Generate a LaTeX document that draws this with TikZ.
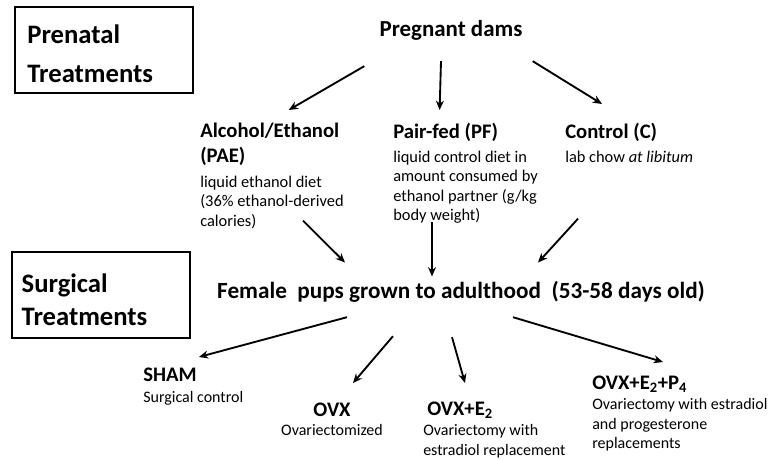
\documentclass[tikz,border=0pt]{standalone}
\usepackage{fontspec}
\setmainfont{Carlito}
\usetikzlibrary{positioning, arrows.meta, calc}

\begin{document}
\begin{tikzpicture}[
    x=0.75pt, y=-0.75pt,
    >={Stealth[length=7pt, width=6pt]},
    arr/.style    ={->, line width=1.4pt},
    sect/.style   ={draw, line width=1.3pt, align=left, text width=115pt, inner xsep=9pt, inner ysep=0pt, minimum height=64.5pt, font=\bfseries\fontsize{20}{29.25}\selectfont},
    head/.style   ={inner sep=0pt, font=\bfseries\fontsize{17.2}{20}\selectfont},
    grp/.style    ={inner sep=0pt, align=left, font=\bfseries\fontsize{15.5}{18.75}\selectfont},
    note/.style   ={inner sep=0pt, align=left, font=\fontsize{12.3}{14.6}\selectfont},
    op/.style     ={inner sep=0pt, align=left, font=\bfseries\fontsize{15.5}{18}\selectfont},
    opnote/.style ={inner sep=0pt, align=left, font=\fontsize{12}{14.6}\selectfont},
]
\useasboundingbox (0,0) rectangle (775,460);

% Section boxes
\node[sect] (pre) at (104,50) {\rule{0pt}{20pt}Prenatal\\Treatments};
\node[sect, inner xsep=7pt, text width=119pt, font=\bfseries\fontsize{20}{24.75}\selectfont] (surg) at (101,295) {\rule{0pt}{21.5pt}Surgical\\Treatments};

% Prenatal groups
\node[head, anchor=base] (dams) at (451,37) {Pregnant dams};

\node[grp, anchor=north west] (pae) at (200,123) {Alcohol/Ethanol\\(PAE)};
\node[note, below=7pt of pae.south west, anchor=north west] (paed) {liquid ethanol diet\\(36\% ethanol-derived\\calories)};

\node[grp, anchor=north west] (pf) at (393,123) {Pair-fed (PF)};
\node[note, below=6.5pt of pf.south west, anchor=north west] (pfd) {liquid control diet in\\amount consumed by\\ethanol partner (g/kg\\body weight)};

\node[grp, anchor=north west] (ctl) at (565,123) {Control (C)};
\node[note, below=6.5pt of ctl.south west, anchor=north west] (ctld) {lab chow \textit{at libitum}};

\node[head, font=\bfseries\fontsize{17.4}{20}\selectfont, anchor=base] (pups) at (461,298) {Female\ \ pups grown to adulthood\ \ (53-58 days old)};

% Surgical groups
\node[op, anchor=north west] (sham) at (143,368) {SHAM};
\node[opnote, below=7pt of sham.south west, anchor=north west] (shamd) {Surgical control};

\node[op, anchor=north] (ovx) at (332,403) {OVX};
\node[opnote, below=5.5pt of ovx] (ovxd) {Ovariectomized};

\node[op, anchor=north west] (ovxe) at (427,402) {OVX+E\textsubscript{2}};
\node[opnote, below=4pt of ovxe.south west, anchor=north west, xshift=-3pt] (ovxed) {Ovariectomy with\\estradiol replacement};

\node[op, anchor=north west] (ovxep) at (592,376) {OVX+E\textsubscript{2}+P\textsubscript{4}};
\node[opnote, below=4pt of ovxep.south west, anchor=north west] (ovxepd) {Ovariectomy with estradiol\\and progesterone\\replacements};

% Arrows
\draw[arr] ($(dams.south west)+(-15,25)$) -- ($(pae.north)+(19,-13)$);
\draw[arr] ($(dams.south)+(-10,20)$)      -- ($(pf.north)+(-6,-13)$);
\draw[arr] ($(dams.south east)+(10,20)$)  -- ($(ctl.north west)+(37,-19)$);

\draw[arr] ($(paed.south)+(31,-8)$)       -- ($(pups.north west)+(128,-18)$);
\draw[arr] ($(pfd.south west)+(39,-2)$)   -- ($(pups.north)+(-29,-4)$);
\draw[arr] ($(ctld.south west)+(13,56)$)  -- ($(pups.north east)+(-167,-18)$);

\draw[arr] ($(pups.south west)+(130,15)$) -- ($(sham.north east)+(2,-11)$);
\draw[arr] ($(pups.south west)+(176,34)$) -- ($(ovx.north)+(21,-20)$);
\draw[arr] ($(pups.south)+(-9,35)$)       -- ($(ovxe.north west)+(38,-19)$);
\draw[arr] ($(pups.south)+(52,15)$)       -- ($(ovxep.north west)+(71,-14)$);

\end{tikzpicture}
\end{document}
